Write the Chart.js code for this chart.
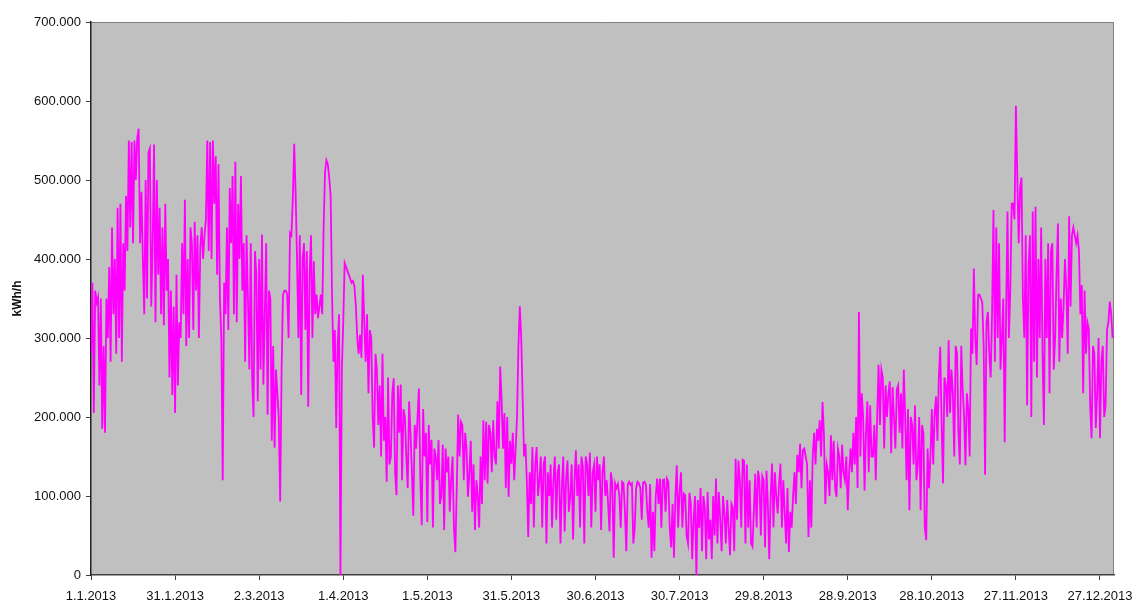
<!DOCTYPE html>
<html>
<head>
<meta charset="utf-8">
<script src="https://cdn.jsdelivr.net/npm/chart.js@4.4.1/dist/chart.umd.min.js"></script>
<style>
  html, body { margin: 0; padding: 0; background: #ffffff; }
  #wrap { width: 1136px; height: 601px; }
</style>
</head>
<body>
<div id="wrap"><canvas id="c" width="1136" height="601"></canvas></div>
<script>
// Hourly load 2013 at two values per day (kWh/h, in thousands)
const jan = [280,370, 205,360, 345,352, 240,350, 185,290, 180,350, 300,390, 270,440, 330,400, 280,465,
             300,470, 270,420, 360,480, 410,550, 440,548, 420,550, 500,553, 565,420, 485,400, 330,500,
             350,535, 540,340, 420,545, 320,500, 380,465, 330,440, 316,470, 360,400, 250,360, 228,340, 205,380];
const feb = [240,320, 300,420, 330,475, 290,400, 300,440, 420,310, 447,360, 430,300, 415,440, 400,430,
             450,550, 410,548, 400,550, 470,530, 380,520, 350,300, 120,370, 330,440, 310,490, 420,505,
             330,523, 320,470, 400,505, 360,420, 270,430, 350,260, 420,250, 200,410];
const mar = [380,220, 400,260, 431,241, 330,420, 203,360, 350,170, 290,161, 260,230, 200,93, 260,355,
             360,360, 355,300, 433,430, 475,546, 485,401, 300,430, 228,400, 420,310, 410,213, 380,430,
             300,397, 330,355, 325,340, 355,330, 440,510, 525,520, 503,480, 355,270, 310,186, 290,330, 0,260];
const apr = [320,395, 390,385, 380,375, 370,372, 365,340, 300,280, 304,275, 380,320, 270,330, 230,310,
             300,200, 161,280, 260,190, 240,150, 280,170, 200,118, 250,140, 150,230, 249,130, 101,240,
             180,241, 120,210, 200,150, 110,220, 180,130, 75,190, 160,200, 236,120, 63,210, 150,180];
const may = [67,190, 140,171, 60,160, 150,120, 171,90, 100,165, 57,160, 130,150, 80,120, 150,60,
             29,110, 203,150, 194,190, 120,180, 160,99, 130,170, 80,140, 57,120, 100,60, 150,90,
             196,120, 194,116, 190,180, 130,196, 150,140, 220,160, 264,222, 160,205, 110,200, 99,170, 141,180];
const jun = [120,160, 200,290, 340,300, 226,150, 166,120, 48,130, 90,162, 60,140, 162,100, 120,150,
             60,140, 150,40, 130,100, 140,60, 120,150, 70,130, 140,40, 110,150, 55,120, 145,80,
             100,140, 45,120, 158,100, 140,60, 150,137, 40,150, 140,100, 155,60, 130,140, 80,150];
const jul = [120,140, 57,130, 150,100, 120,90, 55,130, 116,22, 116,110, 115,100, 60,118, 116,80,
             30,115, 118,114, 116,40, 60,110, 118,116, 110,70, 117,118, 114,80, 60,115, 22,80,
             30,100, 122,90, 122,60, 120,121, 80,122, 118,60, 35,90, 22,100, 139,60, 105,130, 60,103];
const aug = [101,50, 40,104, 90,20, 70,100, 0,95, 60,110, 30,100, 85,20, 105,45, 70,20,
             100,50, 122,40, 105,70, 30,100, 78,40, 95,60, 25,90, 85,30, 147,70, 145,120,
             60,146, 145,40, 140,60, 120,40, 36,80, 128,60, 132,120, 50,125, 120,35, 132,90, 20,100];
const sep = [141,60, 130,100, 78,116, 141,60, 120,80, 40,110, 29,80, 60,100, 130,90, 152,130,
             166,110, 158,160, 150,140, 48,120, 60,150, 180,140, 185,170, 196,150, 219,179, 90,140,
             130,100, 177,120, 170,110, 99,160, 150,110, 165,130, 120,150, 82,130, 160,130, 180,140];
const oct = [200,110, 333,150, 230,200, 107,180, 220,130, 215,150, 150,190, 120,200, 266,190, 260,250,
             160,240, 200,230, 245,154, 238,200, 160,235, 240,180, 230,160, 260,200, 120,210, 82,200,
             190,140, 215,120, 140,200, 82,190, 180,60, 44,160, 110,150, 210,140, 205,226, 170,250, 289,190];
const nov = [116,250, 240,200, 297,205, 260,230, 150,290, 280,180, 140,290, 236,202, 139,230, 210,150,
             312,280, 388,300, 266,355, 355,350, 345,290, 127,320, 333,280, 250,333, 462,270, 440,300,
             420,260, 300,350, 168,330, 460,300, 360,470, 470,450, 594,503, 420,490, 503,350, 300,430];
const dec = [215,390, 430,200, 460,270, 466,250, 400,300, 440,280, 190,400, 300,420, 230,410, 420,260,
             300,380, 445,270, 350,300, 340,400, 360,280, 454,340, 430,440, 430,420, 430,410, 330,367,
             230,360, 280,320, 312,215, 173,290, 280,186, 230,300, 173,270, 290,200, 215,310, 320,346, 330,300];

const xTickDays   = [0, 30, 60, 90, 120, 150, 180, 210, 240, 270, 300, 330, 360];
const xTickLabels = ['1.1.2013','31.1.2013','2.3.2013','1.4.2013','1.5.2013','31.5.2013','30.6.2013',
                     '30.7.2013','29.8.2013','28.9.2013','28.10.2013','27.11.2013','27.12.2013'];
const yTickValues = [0, 100, 200, 300, 400, 500, 600, 700];
const yTickLabels = ['0','100.000','200.000','300.000','400.000','500.000','600.000','700.000'];
const yTitle = 'kWh/h';

const values = [jan, feb, mar, apr, may, jun, jul, aug, sep, oct, nov, dec].flat();
const points = values.map((v, i) => ({ x: i * 0.5, y: v }));

const plotBg = {
  id: 'plotBg',
  beforeDraw(chart) {
    const { ctx, chartArea: a } = chart;
    ctx.save();
    ctx.fillStyle = '#c0c0c0';
    ctx.fillRect(a.left, a.top, a.right - a.left, a.bottom - a.top);
    ctx.strokeStyle = '#808080';
    ctx.lineWidth = 1;
    ctx.beginPath();
    ctx.moveTo(a.left, a.top + 0.5);
    ctx.lineTo(a.right - 0.5, a.top + 0.5);
    ctx.lineTo(a.right - 0.5, a.bottom);
    ctx.stroke();
    ctx.restore();
  }
};

new Chart(document.getElementById('c'), {
  type: 'line',
  data: {
    datasets: [{
      data: points,
      borderColor: '#ff00ff',
      borderWidth: 1.8,
      pointRadius: 0,
      tension: 0,
      fill: false
    }]
  },
  options: {
    responsive: false,
    animation: false,
    devicePixelRatio: 1,
    layout: { padding: { top: 22, right: 22, left: 0, bottom: 0 } },
    plugins: { legend: { display: false }, tooltip: { enabled: false } },
    scales: {
      x: {
        type: 'linear',
        min: 0,
        max: 365,
        afterBuildTicks(s) { s.ticks = xTickDays.map(v => ({ value: v })); },
        afterFit(s) { s.height = 26; s.paddingLeft = 0; s.paddingRight = 0; },
        grid: { drawOnChartArea: false, drawTicks: true, tickLength: 5, tickColor: '#404040' },
        border: { display: true, color: '#404040', width: 1.5 },
        ticks: {
          autoSkip: false,
          maxRotation: 0,
          padding: 9,
          color: '#111111',
          font: { family: 'Liberation Sans, Arial, sans-serif', size: 13 },
          callback(v, i) { return xTickLabels[xTickDays.indexOf(v)]; }
        }
      },
      y: {
        min: 0,
        max: 700,
        afterBuildTicks(s) { s.ticks = yTickValues.map(v => ({ value: v })); },
        afterFit(s) { s.width = 91; },
        grid: { drawOnChartArea: false, drawTicks: true, tickLength: 5, tickColor: '#404040' },
        border: { display: true, color: '#202020', width: 1.5 },
        title: {
          display: true,
          text: yTitle,
          color: '#111111',
          padding: { top: 10, bottom: 0 },
          font: { family: 'Liberation Sans, Arial, sans-serif', size: 12, weight: 'bold' }
        },
        ticks: {
          padding: 5,
          color: '#111111',
          font: { family: 'Liberation Sans, Arial, sans-serif', size: 13 },
          callback(v) { return yTickLabels[yTickValues.indexOf(v)]; }
        }
      }
    }
  },
  plugins: [plotBg]
});
</script>
</body>
</html>
